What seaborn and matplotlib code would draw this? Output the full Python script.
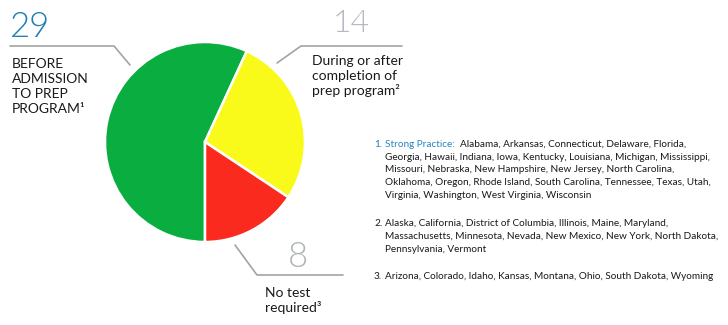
import matplotlib
matplotlib.use("Agg")
import matplotlib.pyplot as plt
import seaborn as sns

# ---- data ----
categories = ["Before admission to prep program",
              "During or after completion of prep program",
              "No test required"]
counts = [29, 14, 8]
number_labels = ["29", "14", "8"]
category_lines = [["BEFORE", "ADMISSION", "TO PREP", "PROGRAM¹"],
                  ["During or after", "completion of", "prep program²"],
                  ["No test", "required³"]]
note1_head = "Strong Practice:"
note1_lines = ["Alabama, Arkansas, Connecticut, Delaware, Florida,",
               "Georgia, Hawaii, Indiana, Iowa, Kentucky, Louisiana, Michigan, Mississippi,",
               "Missouri, Nebraska, New Hampshire, New Jersey, North Carolina,",
               "Oklahoma, Oregon, Rhode Island, South Carolina, Tennessee, Texas, Utah,",
               "Virginia, Washington, West Virginia, Wisconsin"]
note2_lines = ["Alaska, California, District of Columbia, Illinois, Maine, Maryland,",
               "Massachusetts, Minnesota, Nevada, New Mexico, New York, North Dakota,",
               "Pennsylvania, Vermont"]
note3_lines = ["Arizona, Colorado, Idaho, Kansas, Montana, Ohio, South Dakota, Wyoming"]

sns.set_theme(style="white")
plt.rcParams['font.family'] = ['Lato', 'DejaVu Sans']
colors = sns.color_palette(["#0aae40", "#fafa1a", "#fa2a1f"])

W, H = 728, 325
fig = plt.figure(figsize=(W / 100, H / 100), dpi=100)
ax = fig.add_axes([0, 0, 1, 1])

def Y(y):
    return H - y

ax.pie(counts, colors=colors, startangle=270, counterclock=False,
       center=(205, Y(142)), radius=100,
       wedgeprops=dict(edgecolor="white", linewidth=1.8))
ax.set_xlim(0, W)
ax.set_ylim(0, H)
ax.set_aspect("equal")
ax.axis("off")

line_col = "#a3a3a3"
lw = 1.2
# leader lines
ax.plot([10, 114, 130], [Y(46), Y(46), Y(65)], color=line_col, lw=lw)
ax.plot([277, 301, 402], [Y(63), Y(46), Y(46)], color=line_col, lw=lw)
ax.plot([235, 257, 343], [Y(245), Y(275), Y(275)], color=line_col, lw=lw)

# big numbers
ax.text(10, Y(37), number_labels[0], fontsize=25, color="#1c7fb6",
        ha="left", va="baseline", fontweight=300)
ax.text(333, Y(32), number_labels[1], fontsize=23, color="#b8b8c4",
        ha="left", va="baseline", fontweight=300)
ax.text(288, Y(267), number_labels[2], fontsize=25, color="#b0b4b4",
        ha="left", va="baseline", fontweight=300)

txt_col = "#1a1a1a"
for i, s in enumerate(category_lines[0]):
    ax.text(12, Y(68 + 15 * i), s, fontsize=10, color=txt_col, ha="left", va="baseline")
for i, s in enumerate(category_lines[1]):
    ax.text(312, Y(65 + 15 * i), s, fontsize=10, color=txt_col, ha="left", va="baseline")
for i, s in enumerate(category_lines[2]):
    ax.text(265, Y(297 + 15 * i), s, fontsize=10, color=txt_col, ha="left", va="baseline")

nfam = ['Liberation Sans Narrow', 'Lato', 'DejaVu Sans']
nfs = 7.2
ncol = "#1a1a1a"
nx, tx = 374, 385
# note 1
ax.text(nx, Y(147), "1.", fontsize=nfs, color="#1c7fb6", family=nfam, ha="left", va="baseline")
head = ax.text(tx, Y(147), note1_head + "  ", fontsize=nfs, color="#2a86c0", family=nfam,
               ha="left", va="baseline")
fig.canvas.draw()
bb = head.get_window_extent()
ax.text(bb.x1, Y(147), note1_lines[0], fontsize=nfs, color=ncol, family=nfam,
        ha="left", va="baseline")
for i, s in enumerate(note1_lines[1:]):
    ax.text(tx, Y(160 + 12.5 * i), s, fontsize=nfs, color=ncol, family=nfam,
            ha="left", va="baseline")
ax.text(nx, Y(226), "2.", fontsize=nfs, color=ncol, family=nfam, ha="left", va="baseline")
for i, s in enumerate(note2_lines):
    ax.text(tx, Y(226 + 13 * i), s, fontsize=nfs, color=ncol, family=nfam,
            ha="left", va="baseline")
ax.text(nx, Y(279), "3.", fontsize=nfs, color=ncol, family=nfam, ha="left", va="baseline")
ax.text(tx, Y(279), note3_lines[0], fontsize=nfs, color=ncol, family=nfam,
        ha="left", va="baseline")

fig.savefig("out.png", dpi=100, facecolor="white")
